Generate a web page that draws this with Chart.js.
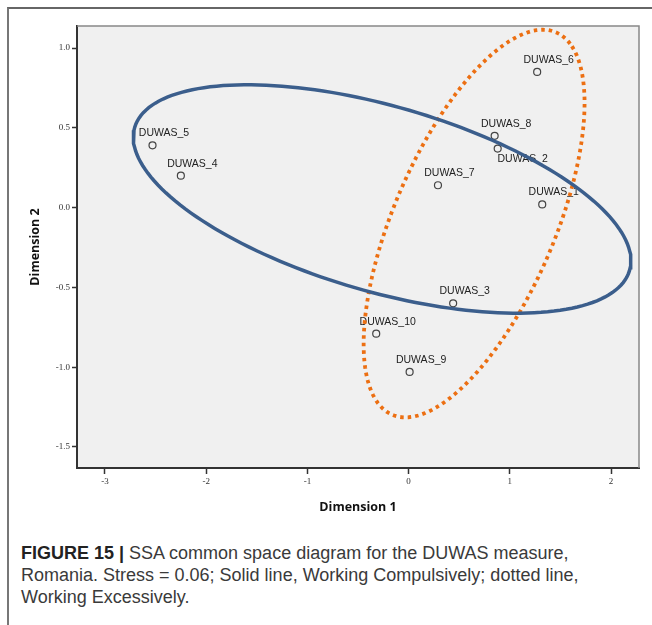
<!DOCTYPE html>
<html>
<head>
<meta charset="utf-8">
<script src="https://cdn.jsdelivr.net/npm/chart.js@4.4.1/dist/chart.umd.min.js"></script>
<style>
  html, body { margin: 0; padding: 0; background: #fff; }
  #wrap { position: relative; width: 652px; height: 625px; overflow: hidden; }
  #frame { position: absolute; left: 7px; top: 7px; width: 660px; height: 640px;
           border-top: 2px solid #666; border-left: 2px solid #777; }
  #chart { position: absolute; left: 0; top: 0; }
  #caption { position: absolute; left: 21px; top: 542px; font-family: "Liberation Sans", Arial, sans-serif;
             font-size: 18px; line-height: 22px; color: #3a3a3a; white-space: nowrap; }
  #caption b { color: #222; }
</style>
</head>
<body>
<div id="wrap">
  <div id="frame"></div>
  <canvas id="chart" width="652" height="520"></canvas>
  <div id="caption"><b>FIGURE 15 |</b> SSA common space diagram for the DUWAS measure,<br>Romania. Stress = 0.06; Solid line, Working Compulsively; dotted line,<br>Working Excessively.</div>
</div>
<script>
// items and their coordinates in the common space
var items = ['DUWAS_1', 'DUWAS_2', 'DUWAS_3', 'DUWAS_4', 'DUWAS_5',
             'DUWAS_6', 'DUWAS_7', 'DUWAS_8', 'DUWAS_9', 'DUWAS_10'];
var dim1 = [1.32, 0.88, 0.44, -2.25, -2.53, 1.27, 0.29, 0.85, 0.01, -0.32];
var dim2 = [0.02, 0.37, -0.60, 0.20, 0.39, 0.85, 0.14, 0.45, -1.03, -0.79];

// labels placed under the point instead of above it
var labelsBelow = ['DUWAS_2'];

var xTicks = [-3, -2, -1, 0, 1, 2];
var yTicks = [-1.5, -1.0, -0.5, 0.0, 0.5, 1.0];

// regions: [centre x, centre y, semi-axis a, semi-axis b, rotation in degrees]
var compulsively = [-0.262, 0.054, 2.49, 0.594, -9.5];
var excessively = [0.647, -0.100, 1.473, 0.705, 49.9];

function ellipse(e) {
  var pts = [];
  var phi = e[4] * Math.PI / 180;
  for (var i = 0; i <= 180; i++) {
    var t = i / 180 * 2 * Math.PI;
    pts.push({
      x: e[0] + e[2] * Math.cos(t) * Math.cos(phi) - e[3] * Math.sin(t) * Math.sin(phi),
      y: e[1] + e[2] * Math.cos(t) * Math.sin(phi) + e[3] * Math.sin(t) * Math.cos(phi)
    });
  }
  return pts;
}

var points = items.map(function (name, i) { return { x: dim1[i], y: dim2[i] }; });

var plotArea = {
  id: 'plotArea',
  beforeDraw: function (chart) {
    var a = chart.chartArea, ctx = chart.ctx;
    ctx.save();
    ctx.fillStyle = '#f0f0f0';
    ctx.fillRect(a.left, a.top, a.right - a.left, a.bottom - a.top);
    ctx.restore();
  },
  beforeDatasetsDraw: function (chart) {
    // item labels sit under the region lines
    var ctx = chart.ctx;
    var meta = chart.getDatasetMeta(2);
    ctx.save();
    ctx.font = '10.5px "Liberation Sans", Arial, sans-serif';
    ctx.fillStyle = '#222';
    ctx.textBaseline = 'middle';
    ctx.textAlign = 'center';
    meta.data.forEach(function (p, i) {
      if (labelsBelow.indexOf(items[i]) >= 0) {
        ctx.fillText(items[i], p.x + 25, p.y + 11);
      } else {
        ctx.fillText(items[i], p.x + 11.5, p.y - 12);
      }
    });
    ctx.restore();
  },
  afterDraw: function (chart) {
    var a = chart.chartArea, ctx = chart.ctx;
    ctx.save();
    ctx.strokeStyle = '#888';
    ctx.lineWidth = 1.5;
    ctx.beginPath();
    ctx.moveTo(a.left, a.top);
    ctx.lineTo(a.right, a.top);
    ctx.lineTo(a.right, a.bottom);
    ctx.stroke();
    ctx.restore();
  }
};

var tickFont = { family: '"Liberation Serif", "Times New Roman", serif', size: 9 };
var titleFont = { family: '"Open Sans", "DejaVu Sans", sans-serif', size: 12.5, weight: 'bold' };

new Chart(document.getElementById('chart').getContext('2d'), {
  type: 'scatter',
  data: {
    datasets: [
      {
        label: 'Working Compulsively',
        data: ellipse(compulsively),
        showLine: true,
        borderColor: '#3b5e8c',
        borderWidth: 3.5,
        pointRadius: 0,
        tension: 0
      },
      {
        label: 'Working Excessively',
        data: ellipse(excessively),
        showLine: true,
        borderColor: '#ec6f12',
        borderWidth: 3.8,
        borderDash: [3.5, 4],
        borderCapStyle: 'butt',
        pointRadius: 0,
        tension: 0
      },
      {
        label: 'Items',
        data: points,
        pointRadius: 3.5,
        pointBackgroundColor: 'rgba(0,0,0,0)',
        pointBorderColor: '#444',
        pointBorderWidth: 1.2
      }
    ]
  },
  plugins: [plotArea],
  options: {
    responsive: false,
    animation: false,
    devicePixelRatio: 1,
    layout: { padding: { left: 20, right: 13, top: 26, bottom: 0 } },
    plugins: { legend: { display: false }, tooltip: { enabled: false } },
    scales: {
      x: {
        type: 'linear',
        min: -3.276,
        max: 2.276,
        afterBuildTicks: function (scale) { scale.ticks = xTicks.map(function (v) { return { value: v }; }); },
        afterFit: function (scale) { scale.height = 52; },
        ticks: { font: tickFont, color: '#333', padding: 2, maxRotation: 0,
                 callback: function (v) { return String(v); } },
        grid: { drawOnChartArea: false, drawTicks: true, tickLength: 6, tickColor: '#333', tickWidth: 1.5 },
        border: { display: true, color: '#333', width: 2 },
        title: { display: true, text: 'Dimension 1', font: titleFont, color: '#111', padding: { top: 0, bottom: 5 } }
      },
      y: {
        type: 'linear',
        min: -1.632,
        max: 1.138,
        afterBuildTicks: function (scale) { scale.ticks = yTicks.map(function (v) { return { value: v }; }); },
        afterFit: function (scale) { scale.width = 57; },
        ticks: { font: tickFont, color: '#333', padding: 2,
                 callback: function (v) { return Number(v).toFixed(1); } },
        grid: { drawOnChartArea: false, drawTicks: true, tickLength: 5, tickColor: '#333', tickWidth: 1.5 },
        border: { display: true, color: '#333', width: 2 },
        title: { display: true, text: 'Dimension 2', font: titleFont, color: '#111', padding: { top: 8, bottom: 0 } }
      }
    }
  }
});
</script>
</body>
</html>
